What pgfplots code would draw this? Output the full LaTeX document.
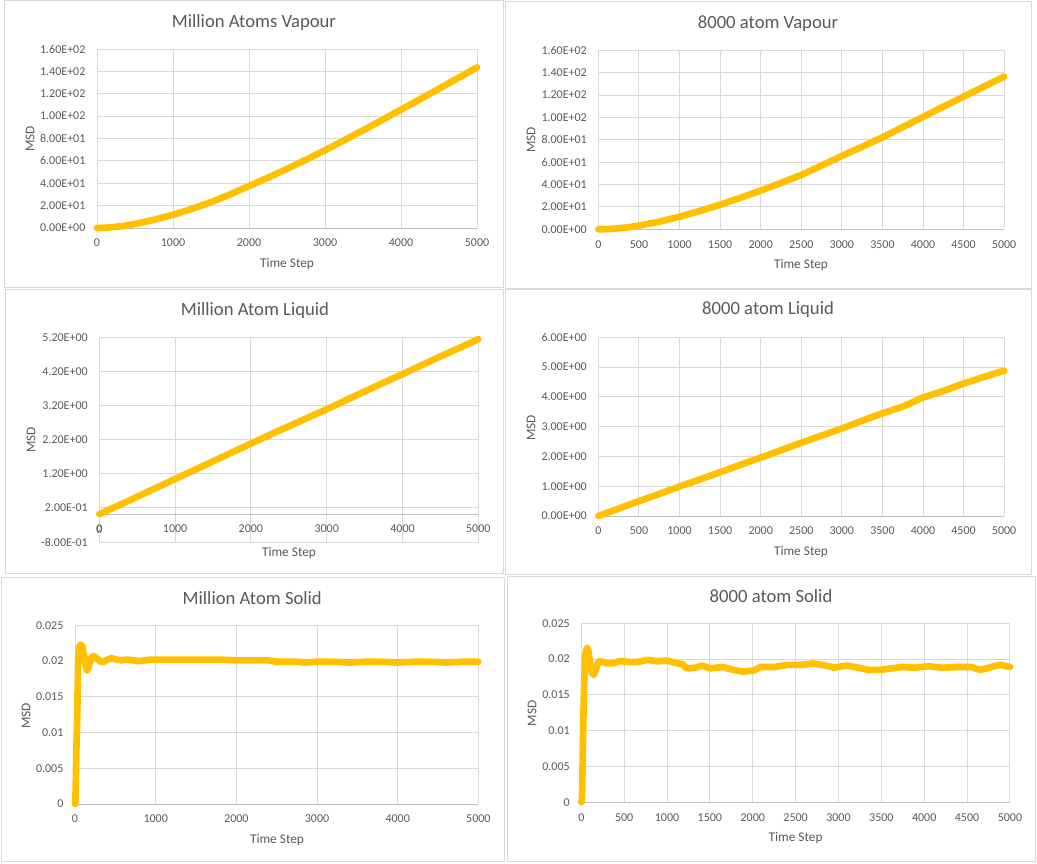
\documentclass[border=0pt]{standalone}
\usepackage{fontspec}
\setmainfont{Carlito}
\usepackage{pgfplots}
\pgfplotsset{compat=1.18}
\definecolor{gridc}{HTML}{D9D9D9}
\definecolor{axisc}{HTML}{BFBFBF}
\definecolor{txtc}{HTML}{595959}
\definecolor{gold}{HTML}{FFC000}
\pgfplotsset{
  excel/.style={
    scale only axis, anchor=south west, clip=false,
    xmin=0, xmax=5000,
    axis x line*=bottom, axis y line*=left,
    axis line style={draw=gridc, line width=0.75pt},
    x axis line style={draw=axisc},
    grid=major, grid style={draw=gridc, line width=0.75pt},
    major tick length=0pt,
    hide obscured x ticks=false, hide obscured y ticks=false,
    scaled y ticks=false, scaled x ticks=false,
    tick label style={font=\fontsize{9}{11}\selectfont, text=txtc, inner sep=0pt},
    yticklabel style={anchor=east, xshift=-8.5pt},
    xticklabel style={anchor=north, yshift=-8pt},
    /pgf/number format/assume math mode=true,
    /pgf/number format/1000 sep={},
  },
  msd/.style={draw=gold, line width=5pt, line cap=round, line join=round, mark=none},
}
\begin{document}
\begin{tikzpicture}
\begin{scope}[x=0.75pt,y=-0.75pt]
\path (0,0) rectangle (1037,863);
\draw[gridc, line width=0.75pt] (4,1) rectangle (503,287);
\draw[gridc, line width=0.75pt] (505,2) rectangle (1031,288);
\draw[gridc, line width=0.75pt] (5,289) rectangle (503,573);
\draw[gridc, line width=0.75pt] (505,289) rectangle (1031,574);
\draw[gridc, line width=0.75pt] (1,577) rectangle (504,861);
\draw[gridc, line width=0.75pt] (507,576) rectangle (1035,861);
\tikzset{ttl/.style={text=txtc, font=\fontsize{14}{17}\selectfont, inner sep=0pt},
         lbl/.style={text=txtc, font=\fontsize{10}{12}\selectfont, inner sep=0pt}}
\node[ttl] at (254,22.7) {Million Atoms Vapour};
\node[ttl] at (768,23.3) {8000 atom Vapour};
\node[ttl] at (255,311) {Million Atom Liquid};
\node[ttl] at (768,310) {8000 atom Liquid};
\node[ttl] at (252.3,597.7) {Million Atom Solid};
\node[ttl] at (771,596) {8000 atom Solid};
\node[lbl] at (287,264) {Time Step};
\node[lbl] at (801,265) {Time Step};
\node[lbl] at (289,553) {Time Step};
\node[lbl] at (801,551.7) {Time Step};
\node[lbl] at (277,840) {Time Step};
\node[lbl] at (795.6,838.3) {Time Step};
\node[lbl, rotate=90] at (30,139) {MSD};
\node[lbl, rotate=90] at (531,140) {MSD};
\node[lbl, rotate=90] at (31,440) {MSD};
\node[lbl, rotate=90] at (531,427.7) {MSD};
\node[lbl, rotate=90] at (26,715.7) {MSD};
\node[lbl, rotate=90] at (532,713.3) {MSD};
\node[text=txtc, font=\fontsize{9}{11}\selectfont, inner sep=0pt] at (99.3,530) {0};
\end{scope}

% Top-left: Million Atoms Vapour
\begin{axis}[excel, at={(72.75pt,-171pt)}, width=285pt, height=134.25pt,
  ymin=0, ymax=160, ytick={0,20,40,60,80,100,120,140,160},
  yticklabels={0.00E+00,2.00E+01,4.00E+01,6.00E+01,8.00E+01,1.00E+02,1.20E+02,1.40E+02,1.60E+02},
  xtick={0,1000,2000,3000,4000,5000}]
\addplot[msd] coordinates {(0,0) (125,0.3) (250,1.0) (375,2.1) (500,3.6) (750,7.3) (1000,11.8) (1250,17.1) (1500,23.1) (1750,30) (2000,37.5) (2250,45) (2500,52.8) (2750,61) (3000,69.5) (3250,78.3) (3500,87.3) (3750,96.5) (4000,105.8) (4250,115.1) (4500,124.5) (4750,134) (5000,143.6)};
\end{axis}

% Top-right: 8000 atom Vapour
\begin{axis}[excel, at={(448.8pt,-171.98pt)}, width=304.3pt, height=134.25pt,
  ymin=0, ymax=160, ytick={0,20,40,60,80,100,120,140,160},
  yticklabels={0.00E+00,2.00E+01,4.00E+01,6.00E+01,8.00E+01,1.00E+02,1.20E+02,1.40E+02,1.60E+02},
  xtick={0,500,1000,1500,2000,2500,3000,3500,4000,4500,5000}]
\addplot[msd] coordinates {(0,0) (125,0.25) (250,0.9) (375,1.9) (500,3.3) (750,6.8) (1000,11.3) (1250,16.4) (1500,22) (1750,28.2) (2000,34.6) (2250,41.5) (2500,48.6) (2750,57) (3000,65.6) (3250,73.8) (3500,82.2) (3750,91.3) (4000,100.5) (4250,109.6) (4500,118.6) (4750,127.5) (5000,136.5)};
\end{axis}

% Middle-left: Million Atom Liquid
\begin{axis}[excel, at={(74.48pt,-406.5pt)}, width=284.25pt, height=153.2pt,
  x axis line style={draw=gridc},
  xticklabel style={yshift=21pt},
  ymin=-0.8, ymax=5.2, ytick={-0.8,0.2,1.2,2.2,3.2,4.2,5.2},
  yticklabels={-8.00E-01,2.00E-01,1.20E+00,2.20E+00,3.20E+00,4.20E+00,5.20E+00},
  xtick={0,1000,2000,3000,4000,5000}]
\draw[axisc, line width=0.75pt] (axis cs:0,0) -- (axis cs:5000,0);
\addplot[msd] coordinates {(0,0.02) (250,0.27) (500,0.53) (750,0.79) (1000,1.05) (1250,1.31) (1500,1.57) (1750,1.83) (2000,2.09) (2250,2.35) (2500,2.6) (2750,2.85) (3000,3.1) (3250,3.36) (3500,3.62) (3750,3.88) (4000,4.13) (4250,4.39) (4500,4.65) (4750,4.9) (5000,5.16)};
\end{axis}

% Middle-right: 8000 atom Liquid
\begin{axis}[excel, at={(448.8pt,-387pt)}, width=304.3pt, height=134pt,
  ymin=0, ymax=6, ytick={0,1,2,3,4,5,6},
  yticklabels={0.00E+00,1.00E+00,2.00E+00,3.00E+00,4.00E+00,5.00E+00,6.00E+00},
  xtick={0,500,1000,1500,2000,2500,3000,3500,4000,4500,5000}]
\addplot[msd] coordinates {(0,0) (250,0.25) (500,0.5) (750,0.74) (1000,0.99) (1250,1.23) (1500,1.47) (1750,1.72) (2000,1.96) (2250,2.21) (2500,2.46) (2750,2.7) (3000,2.94) (3250,3.2) (3500,3.45) (3750,3.67) (4000,3.98) (4250,4.2) (4500,4.45) (4750,4.67) (5000,4.88)};
\end{axis}

% Bottom-left: Million Atom Solid
\begin{axis}[excel, at={(56.25pt,-603pt)}, width=302.5pt, height=134pt,
  ymin=0, ymax=0.025, ytick={0,0.005,0.01,0.015,0.02,0.025},
  yticklabels={0,0.005,0.01,0.015,0.02,0.025},
  xtick={0,1000,2000,3000,4000,5000}]
\addplot[msd] coordinates {(0,0) (5,0.0003) (10,0.003) (12,0.0048) (18,0.008) (25,0.0108) (30,0.014) (33,0.0164) (38,0.019) (41,0.0206) (50,0.0218) (62,0.0222) (75,0.0223) (91,0.022) (105,0.0213) (116,0.0206) (130,0.0195) (149,0.0187) (165,0.019) (186,0.0199) (205,0.0205) (227,0.0207) (260,0.0205) (289,0.0202) (320,0.0199) (351,0.0199) (400,0.0202) (454,0.0204) (520,0.0202) (578,0.0201) (650,0.0202) (785,0.0200) (860,0.0201) (950,0.0202) (1200,0.0202) (1500,0.0202) (1800,0.0202) (2000,0.0201) (2200,0.0201) (2400,0.0201) (2500,0.0199) (2750,0.0199) (2850,0.0198) (3000,0.0199) (3200,0.0199) (3400,0.0198) (3600,0.0199) (3800,0.0199) (4000,0.0198) (4200,0.0199) (4400,0.0199) (4600,0.0198) (4800,0.0199) (5000,0.0199)};
\end{axis}

% Bottom-right: 8000 atom Solid
\begin{axis}[excel, at={(435.98pt,-601.73pt)}, width=321.45pt, height=134.25pt,
  ymin=0, ymax=0.025, ytick={0,0.005,0.01,0.015,0.02,0.025},
  yticklabels={0,0.005,0.01,0.015,0.02,0.025},
  xtick={0,500,1000,1500,2000,2500,3000,3500,4000,4500,5000}]
\addplot[msd] coordinates {(0,0) (8,0.0005) (12,0.003) (16,0.006) (20,0.009) (25,0.0125) (30,0.015) (35,0.0175) (40,0.019) (50,0.0208) (60,0.0214) (70,0.0216) (82,0.0212) (95,0.0200) (110,0.0188) (125,0.0181) (145,0.0178) (165,0.0183) (185,0.0192) (210,0.0197) (250,0.0196) (300,0.0194) (370,0.0194) (440,0.0197) (490,0.0197) (560,0.0196) (650,0.0196) (700,0.0197) (770,0.0199) (890,0.0197) (1000,0.0198) (1130,0.0194) (1180,0.0193) (1230,0.0187) (1330,0.0188) (1410,0.0191) (1500,0.0187) (1650,0.0189) (1770,0.0185) (1890,0.01825) (2010,0.0184) (2090,0.0189) (2250,0.0189) (2410,0.0192) (2570,0.0192) (2710,0.0194) (2850,0.0191) (2950,0.0188) (3090,0.0191) (3230,0.0188) (3350,0.0185) (3490,0.0185) (3610,0.0187) (3750,0.0189) (3890,0.0188) (4050,0.019) (4210,0.0188) (4410,0.0189) (4550,0.0189) (4650,0.0185) (4730,0.0187) (4810,0.019) (4890,0.0192) (5000,0.0189)};
\end{axis}
\end{tikzpicture}
\end{document}
